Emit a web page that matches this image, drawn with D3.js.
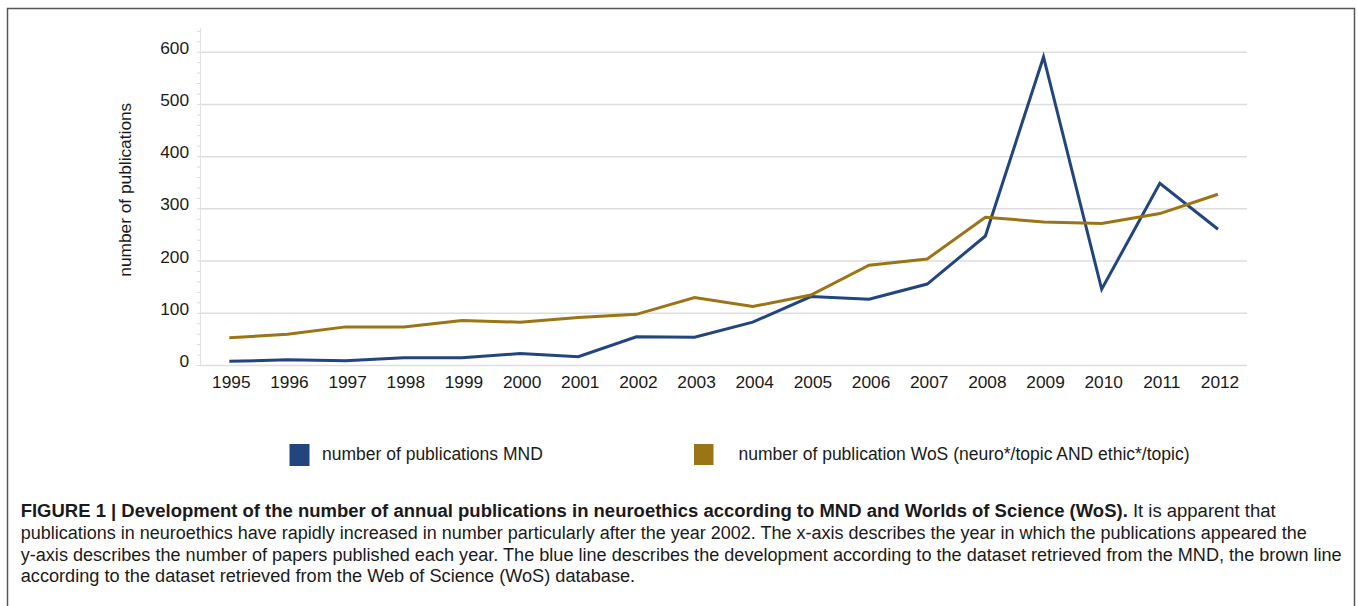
<!DOCTYPE html>
<html>
<head>
<meta charset="utf-8">
<script src="https://cdn.jsdelivr.net/npm/d3@7"></script>
<style>
  html, body { margin: 0; padding: 0; background: #fff; }
  svg { display: block; }
  text { font-family: "Liberation Sans", Arial, Helvetica, sans-serif; fill: #1a1a1a; }
</style>
</head>
<body>
<svg id="chart" width="1358" height="606"></svg>
<script>
// ---- data ----
const years = [1995, 1996, 1997, 1998, 1999, 2000, 2001, 2002, 2003, 2004, 2005, 2006, 2007, 2008, 2009, 2010, 2011, 2012];
const mndValues = [7, 10, 8, 14, 14, 22, 16, 54, 53, 82, 131, 126, 155, 247, 590, 145, 348, 260];
const wosValues = [52, 59, 73, 73, 85, 82, 91, 97, 129, 112, 134, 191, 203, 283, 274, 271, 290, 327];
const yMajorTicks = [0, 100, 200, 300, 400, 500, 600];
const seriesNames = ["number of publications MND", "number of publication WoS (neuro*/topic AND ethic*/topic)"];
const yTitle = "number of publications";
const captionBold = "FIGURE 1 | Development of the number of annual publications in neuroethics according to MND and Worlds of Science (WoS).";
const captionLines = [
  " It is apparent that",
  "publications in neuroethics have rapidly increased in number particularly after the year 2002. The x-axis describes the year in which the publications appeared the",
  "y-axis describes the number of papers published each year. The blue line describes the development according to the dataset retrieved from the MND, the brown line",
  "according to the dataset retrieved from the Web of Science (WoS) database."
];

const colors = ["#23457e", "#9b7415"];

const svg = d3.select("#chart");

// frame
svg.append("rect")
  .attr("x", 7.5).attr("y", 8.5)
  .attr("width", 1347).attr("height", 700)
  .attr("fill", "none").attr("stroke", "#555").attr("stroke-width", 1.5);

const plotLeft = 200, plotRight = 1247;
const x = d3.scalePoint().domain(years).range([229.3, 1218]);
const y = d3.scaleLinear().domain([0, 600]).range([365, 51.7]);

// gridlines
svg.append("g")
  .attr("transform", `translate(${plotLeft},0)`)
  .call(d3.axisLeft(y).tickValues(yMajorTicks).tickSize(-(plotRight - plotLeft)).tickFormat(""))
  .call(g => g.select(".domain").remove())
  .call(g => g.selectAll("line").attr("stroke", "#dedede").attr("stroke-width", 1.5));

// y axis line with minor ticks
const yAxisExt = d3.scaleLinear().domain([0, 646]).range([y(0), y(646)]);
svg.append("g")
  .attr("transform", `translate(${plotLeft},0)`)
  .call(d3.axisLeft(yAxisExt).tickValues(d3.range(0, 641, 20)).tickSize(3).tickSizeOuter(0).tickFormat(""))
  .call(g => g.select(".domain").attr("stroke", "#e2e2e2").attr("stroke-width", 1))
  .call(g => g.selectAll(".tick line").attr("stroke", "#dcdcdc").attr("stroke-width", 1));

// y major labels
svg.append("g")
  .attr("transform", `translate(${plotLeft},0)`)
  .call(d3.axisLeft(y).tickValues(yMajorTicks).tickSize(0).tickPadding(11))
  .call(g => g.select(".domain").remove())
  .call(g => g.selectAll("text")
    .attr("dy", 0).attr("y", 1.5)
    .style("font-size", "17.3px").attr("fill", "#111")
    .attr("font-family", null));

// x labels
svg.append("g")
  .attr("transform", `translate(0,${y(0)})`)
  .call(d3.axisBottom(x).tickSize(0).tickFormat(d3.format("d")))
  .call(g => g.select(".domain").remove())
  .call(g => g.selectAll("text")
    .attr("dy", 0).attr("y", 23).attr("dx", 1.5)
    .style("font-size", "17.3px").attr("fill", "#111")
    .attr("font-family", null));

// y title
svg.append("text")
  .attr("transform", `translate(131.4,189.7) rotate(-90)`)
  .attr("text-anchor", "middle")
  .style("font-size", "17.3px")
  .attr("fill", "#111")
  .text(yTitle);

// lines
const line = d3.line().x((d, i) => x(years[i])).y(d => y(d));
[mndValues, wosValues].forEach((vals, k) => {
  svg.append("path")
    .datum(vals)
    .attr("d", line)
    .attr("fill", "none")
    .attr("stroke", colors[k])
    .attr("stroke-width", 3)
    .attr("stroke-linejoin", "miter");
});

// legend
const legendItems = [
  { sx: 289.5, tx: 322, w: 20, h: 22 },
  { sx: 694, tx: 738.5, w: 19.5, h: 21 }
];
legendItems.forEach((it, k) => {
  svg.append("rect")
    .attr("x", it.sx).attr("y", 444)
    .attr("width", it.w).attr("height", it.h)
    .attr("fill", colors[k]);
  svg.append("text")
    .attr("x", it.tx).attr("y", 459.5)
    .style("font-size", "17.5px")
    .attr("fill", "#111")
    .text(seriesNames[k]);
});

// caption
const baselines = [517.3, 539, 560.7, 582];
const targets = [1255, 1286, 1321];
const capX = 20.7;
const capTexts = [];
captionLines.forEach((ln, i) => {
  const t = svg.append("text")
    .attr("x", capX).attr("y", baselines[i])
    .style("font-size", "16px")
    .attr("fill", "#1a1a1a");
  if (i === 0) {
    t.append("tspan").attr("font-weight", "bold").text(captionBold);
  }
  t.append("tspan").text(ln);
  capTexts.push(t);
});
// fit font size to measured widths
let ratios = [];
for (let i = 0; i < 3; i++) {
  ratios.push(targets[i] / capTexts[i].node().getComputedTextLength());
}
const s = d3.mean(ratios);
capTexts.forEach((t, i) => {
  t.style("font-size", (16 * s) + "px");
  if (i < 3) t.attr("textLength", targets[i]).attr("lengthAdjust", "spacingAndGlyphs");
});
</script>
</body>
</html>
